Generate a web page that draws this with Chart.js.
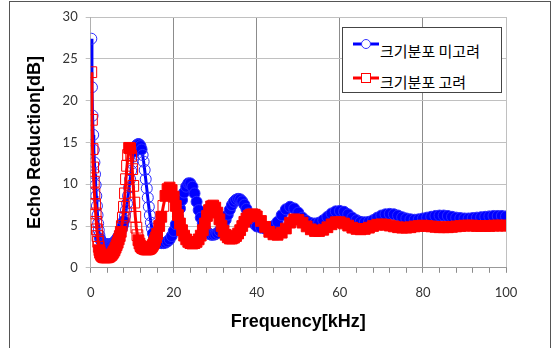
<!DOCTYPE html>
<html>
<head>
<meta charset="utf-8">
<script src="https://cdn.jsdelivr.net/npm/chart.js@4.4.0/dist/chart.umd.min.js"></script>
<style>
    html, body { margin: 0; padding: 0; background: #fff; overflow: hidden; }
    #wrap { position: relative; width: 555px; height: 348px; overflow: hidden; }
    #chart { position: absolute; left: 0; top: 0; }
    #frame { position: absolute; left: 9px; top: 1px; width: 542px; height: 400px; border: 1px solid #555; box-sizing: border-box; pointer-events: none; }
    #legend { position: absolute; left: 342px; top: 27px; width: 160px; height: 66px; border: 1px solid #444; box-sizing: border-box; background: #fff; }
    #legend svg { position: absolute; left: 9px; }
    #legend span { position: absolute; left: 37px; font-family: "Noto Sans CJK KR"; font-size: 15px; line-height: 15px; color: #000; white-space: nowrap; }
</style>
</head>
<body>
<div id="wrap">
    <canvas id="chart" width="555" height="348"></canvas>
    <div id="frame"></div>
    <div id="legend">
        <svg style="top:10px" width="28" height="12"><line x1="1" y1="6" x2="27" y2="6" stroke="#0000ff" stroke-width="3"/><circle cx="14" cy="6" r="4.5" fill="#fff" stroke="#3333ff" stroke-width="1"/></svg>
        <span id="leg0" style="top:15px"></span>
        <svg style="top:44px" width="28" height="12"><line x1="1" y1="6" x2="27" y2="6" stroke="#ff0000" stroke-width="3"/><rect x="9.5" y="1.5" width="9" height="9" fill="#fff" stroke="#ff0000" stroke-width="1"/></svg>
        <span id="leg1" style="top:46px"></span>
    </div>
</div>
<script>
// 시리즈 이름과 축 제목
const seriesNames = ["크기분포 미고려", "크기분포 고려"];
const xTitle = "Frequency[kHz]";
const yTitle = "Echo Reduction[dB]";

// 주파수 [kHz] (앞쪽은 촘촘하게)
const freqs = [
    0.15, 0.3, 0.45, 0.6, 0.75, 0.9, 1.05, 1.2, 1.35, 1.5, 1.65, 1.8, 1.95, 2.1,
    2.25, 2.5, 2.75, 3, 3.25, 3.5, 3.75, 4, 4.25, 4.5, 4.75, 5, 5.25, 5.5, 5.75, 6,
    6.25, 6.5, 6.75, 7, 7.25, 7.5, 7.75, 8, 8.25, 8.5, 8.75, 9, 9.25, 9.5, 9.75, 10,
    10.25, 10.5, 10.75, 11, 11.25, 11.5, 11.75, 12, 12.25, 12.5, 12.75, 13, 13.25, 13.5, 13.75, 14,
    14.25, 14.5, 14.75, 15, 15.25, 15.5, 15.75, 16,
    16.5, 17, 17.5, 18, 18.5, 19, 19.5, 20, 20.5, 21, 21.5, 22, 22.5, 23, 23.5, 24,
    24.5, 25, 25.5, 26, 26.5, 27, 27.5, 28, 28.5, 29, 29.5, 30, 30.5, 31, 31.5, 32,
    32.5, 33, 33.5, 34, 34.5, 35, 35.5, 36, 36.5, 37, 37.5, 38, 38.5, 39, 39.5, 40,
    41, 42, 43, 44, 45, 46, 47, 48, 49, 50, 51, 52, 53, 54, 55, 56, 57, 58, 59, 60,
    61, 62, 63, 64, 65, 66, 67, 68, 69, 70, 71, 72, 73, 74, 75, 76, 77, 78, 79, 80,
    81, 82, 83, 84, 85, 86, 87, 88, 89, 90, 91, 92, 93, 94, 95, 96, 97, 98, 99, 100
];

// 크기분포 미고려 (파란색)
const blueVals = [
    27.4, 21.6, 18.2, 15.9, 14.1, 12.6, 11.2, 9.9, 8.6, 7.4, 6.3, 5.3, 4.5, 3.9,
    3.5, 3.25, 3.1, 3.0, 2.9, 2.85, 2.8, 2.8, 2.8, 2.8, 2.8, 2.85, 2.9, 3.0, 3.1, 3.25,
    3.4, 3.6, 3.8, 4.05, 4.35, 4.7, 5.1, 5.6, 6.2, 6.9, 7.7, 8.6, 9.6, 10.6, 11.6, 12.5,
    13.3, 13.9, 14.35, 14.6, 14.75, 14.8, 14.75, 14.55, 14.15, 13.5, 12.7, 11.7, 10.6, 9.5, 8.4, 7.3,
    6.3, 5.4, 4.7, 4.1, 3.7, 3.4, 3.2, 3.1,
    3.0, 2.95, 2.95, 3.0, 3.15, 3.4, 3.8, 4.4, 5.2, 6.1, 7.1, 8.1, 9.0, 9.7, 10.1, 10.1,
    9.7, 8.9, 7.9, 6.9, 6.0, 5.3, 4.7, 4.3, 4.05, 3.95, 3.95, 4.0, 4.15, 4.4, 4.75, 5.2,
    5.75, 6.35, 6.95, 7.5, 7.9, 8.15, 8.25, 8.2, 7.95, 7.55, 7.05, 6.5, 6.0, 5.55, 5.2, 4.95,
    4.8, 4.7, 4.75, 5.0, 5.5, 6.3, 7.0, 7.3, 7.1, 6.6, 6.0, 5.6, 5.35, 5.3, 5.4, 5.7, 6.1, 6.5, 6.75, 6.8,
    6.7, 6.4, 6.0, 5.7, 5.5, 5.45, 5.5, 5.7, 6.0, 6.25, 6.4, 6.45, 6.4, 6.25, 6.05, 5.9, 5.8, 5.75, 5.8, 5.9,
    6.0, 6.1, 6.2, 6.25, 6.25, 6.2, 6.1, 6.0, 5.95, 5.9, 5.9, 5.95, 6.0, 6.05, 6.1, 6.15, 6.2, 6.2, 6.2, 6.15
];

// 크기분포 고려 (빨간색)
const redVals = [
    23.4, 17.7, 14.2, 12.0, 10.3, 8.9, 7.6, 6.5, 5.5, 4.6, 3.8, 3.1, 2.5, 2.1,
    1.8, 1.55, 1.4, 1.3, 1.25, 1.25, 1.25, 1.25, 1.3, 1.35, 1.45, 1.55, 1.7, 1.9, 2.1, 2.4,
    2.7, 3.0, 3.4, 3.8, 4.3, 5.0, 6.0, 7.3, 8.9, 10.6, 12.2, 13.5, 14.35, 14.3, 13.4, 11.8,
    9.8, 7.8, 6.1, 4.8, 3.9, 3.3, 2.9, 2.6, 2.45, 2.35, 2.3, 2.25, 2.2, 2.2, 2.2, 2.25,
    2.3, 2.4, 2.55, 2.75, 3.0, 3.3, 3.65, 4.05,
    5.0, 6.1, 7.4, 8.6, 9.4, 9.6, 9.3, 8.5, 7.4, 6.3, 5.3, 4.5, 3.85, 3.4, 3.1, 2.95,
    2.9, 2.95, 3.1, 3.4, 3.85, 4.5, 5.3, 6.2, 6.9, 7.35, 7.45, 7.2, 6.6, 5.8, 5.0, 4.4,
    3.95, 3.65, 3.5, 3.5, 3.6, 3.8, 4.1, 4.5, 5.0, 5.5, 5.9, 6.2, 6.35, 6.4, 6.35, 6.15,
    5.6, 4.9, 4.3, 4.0, 3.95, 4.2, 4.7, 5.4, 5.8, 5.75, 5.4, 4.95, 4.6, 4.4, 4.4, 4.55, 4.85, 5.2, 5.45, 5.45,
    5.3, 5.05, 4.8, 4.65, 4.6, 4.65, 4.8, 5.0, 5.15, 5.2, 5.15, 5.05, 4.95, 4.85, 4.8, 4.8, 4.85, 4.95, 5.0, 5.05,
    5.0, 4.95, 4.9, 4.85, 4.85, 4.85, 4.9, 4.95, 5.0, 5.05, 5.05, 5.05, 5.0, 5.0, 5.0, 5.0, 5.05, 5.05, 5.05, 5.05
];

// 축 눈금
const xMin = 0, xMax = 100, xStep = 4, xLabelEvery = 20;
const yMin = 0, yMax = 30, yStep = 5;

document.getElementById('leg0').textContent = seriesNames[0];
document.getElementById('leg1').textContent = seriesNames[1];

function toPoints(vals) {
    return freqs.map((f, i) => ({x: f, y: vals[i]}));
}

// 완만한 구간은 마커가 겹쳐 꽉 찬 띠처럼 보이게 채우고, 가파른 구간은 속이 빈 마커
function markerFill(vals, color) {
    return function(c) {
        const i = c.dataIndex;
        const a = Math.max(i - 1, 0);
        const b = Math.min(i + 1, vals.length - 1);
        const slope = Math.abs(vals[b] - vals[a]) / (freqs[b] - freqs[a]);
        return slope < 2.5 ? color : 'rgba(255,255,255,0)';
    };
}

const ctx = document.getElementById('chart').getContext('2d');
const chart = new Chart(ctx, {
    type: 'line',
    data: {
        datasets: [{
            label: seriesNames[0],
            data: toPoints(blueVals),
            borderColor: '#0000ff',
            borderWidth: 3,
            pointStyle: 'circle',
            pointRadius: 5.5,
            pointBorderColor: '#2b2bff',
            pointBackgroundColor: markerFill(blueVals, '#0000ff'),
            pointBorderWidth: 1,
            order: 2
        }, {
            label: seriesNames[1],
            data: toPoints(redVals),
            borderColor: '#ff0000',
            borderWidth: 3,
            pointStyle: 'rect',
            pointRadius: 7.6,
            pointBorderColor: '#ff0000',
            pointBackgroundColor: markerFill(redVals, '#ff0000'),
            pointBorderWidth: 1,
            order: 1
        }]
    },
    options: {
        responsive: false,
        animation: false,
        layout: {padding: {left: 8, right: 49, top: 17, bottom: 15}},
        plugins: {legend: {display: false}, tooltip: {enabled: false}},
        scales: {
            x: {
                type: 'linear',
                min: xMin,
                max: xMax,
                ticks: {
                    stepSize: xStep,
                    autoSkip: false,
                    maxRotation: 0,
                    padding: 12,
                    color: '#333',
                    font: {family: 'Lato', size: 13},
                    callback: v => (v % xLabelEvery === 0 ? v : '')
                },
                grid: {
                    color: c => {
                        const v = c.tick.value;
                        if (v === xMin || v === xMax) return '#c0c0c0';
                        return v % xLabelEvery === 0 ? '#8c8c8c' : 'rgba(0,0,0,0)';
                    },
                    tickColor: '#8c8c8c',
                    tickLength: 5
                },
                border: {color: '#999'},
                title: {
                    display: true,
                    text: xTitle,
                    color: '#000',
                    font: {family: 'Liberation Sans', size: 18, weight: 'bold'},
                    padding: {top: -1, bottom: 0}
                }
            },
            y: {
                min: yMin,
                max: yMax,
                ticks: {
                    stepSize: yStep,
                    padding: 8,
                    color: '#333',
                    font: {family: 'Lato', size: 13}
                },
                grid: {color: '#c0c0c0', tickLength: 5},
                border: {color: '#b0b0b0'},
                title: {
                    display: true,
                    text: yTitle,
                    color: '#000',
                    font: {family: 'Liberation Sans', size: 18, weight: 'bold'},
                    padding: {top: 16, bottom: 9}
                }
            }
        }
    }
});
</script>
</body>
</html>
